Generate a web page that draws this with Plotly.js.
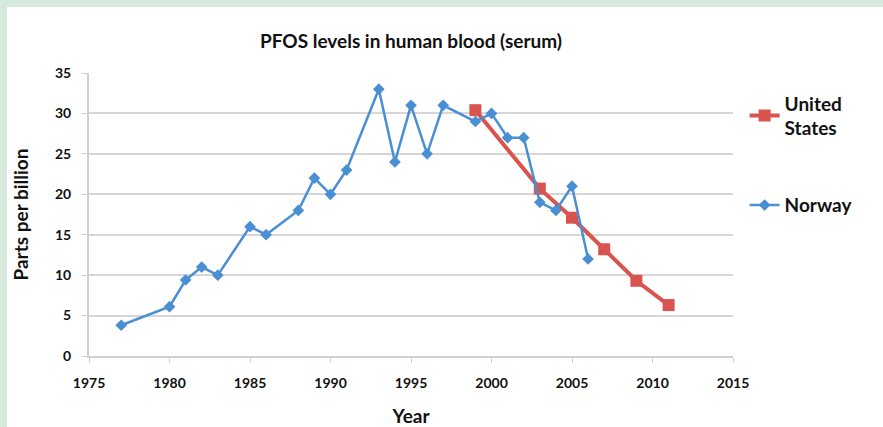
<!DOCTYPE html>
<html><head><meta charset="utf-8">
<script src="https://cdn.plot.ly/plotly-3.0.1.min.js"></script>
<style>
html,body{margin:0;padding:0;background:#d6e9dc;width:883px;height:427px;overflow:hidden}
#chart{position:absolute;left:7px;top:7px;width:876px;height:420px;background:#fff}
</style></head><body>
<div id="chart"></div>
<script>
const norwayYears = [1977,1980,1981,1982,1983,1985,1986,1988,1989,1990,1991,1993,1994,1995,1996,1997,1999,2000,2001,2002,2003,2004,2005,2006];
const norwayValues = [3.8,6.1,9.4,11,10,16,15,18,22,20,23,33,24,31,25,31,29,30,27,27,19,18,21,12];
const usYears = [1999,2003,2005,2007,2009,2011];
const usValues = [30.4,20.7,17.1,13.2,9.3,6.3];
const xTicks = [1975,1980,1985,1990,1995,2000,2005,2010,2015];
const yTicks = [0,5,10,15,20,25,30,35];

const font = "Lato, 'Open Sans', sans-serif";
const traces = [
  {x: usYears, y: usValues, name: 'United<br>States', mode: 'lines+markers', type: 'scatter', legend: 'legend',
   line: {color: '#d9534f', width: 4}, marker: {symbol: 'square', size: 12, color: '#d9534f'}},
  {x: norwayYears, y: norwayValues, name: 'Norway', mode: 'lines+markers', type: 'scatter', legend: 'legend2',
   line: {color: '#4a8fd4', width: 2.5}, marker: {symbol: 'diamond', size: 9, color: '#4a8fd4'}}
];
const legFont = {size: 19, family: font, weight: 'bold', color: '#111'};
const layout = {
  width: 876, height: 420,
  margin: {l: 82, r: 150, t: 66, b: 71},
  paper_bgcolor: '#fff', plot_bgcolor: '#fff',
  font: {family: font, color: '#111', weight: 'bold'},
  title: {text: 'PFOS levels in human blood (serum)', font: {size: 19, family: font, weight: 'bold', color: '#111'},
          x: 0.5, xref: 'paper', y: 0.935, yref: 'container'},
  xaxis: {range: [1975, 2015], tickvals: xTicks, ticktext: xTicks.map(String),
          showgrid: false, zeroline: false, showline: true, linecolor: '#d0d0d0', linewidth: 2,
          ticks: 'outside', ticklen: 5, tickcolor: '#d0d0d0', ticklabelstandoff: 8,
          tickfont: {size: 14, family: font, weight: 'bold'},
          title: {text: 'Year', font: {size: 19, family: font, weight: 'bold'}, standoff: 21}},
  yaxis: {range: [0, 35], tickvals: yTicks, ticktext: yTicks.map(String),
          showgrid: true, gridcolor: '#d6d6d6', gridwidth: 1.5, zeroline: false,
          showline: true, linecolor: '#d0d0d0', linewidth: 2,
          ticks: 'outside', ticklen: 5, tickcolor: '#d0d0d0', ticklabelstandoff: 8,
          tickfont: {size: 14, family: font, weight: 'bold'},
          title: {text: 'Parts per billion', font: {size: 19, family: font, weight: 'bold'}, standoff: 21}},
  showlegend: true,
  legend: {x: 1.018, xanchor: 'left', y: 0.96, yanchor: 'top', font: legFont, itemwidth: 30, bgcolor: 'rgba(0,0,0,0)'},
  legend2: {x: 1.018, xanchor: 'left', y: 0.6, yanchor: 'top', font: legFont, itemwidth: 30, bgcolor: 'rgba(0,0,0,0)'}
};
Plotly.newPlot('chart', traces, layout, {displayModeBar: false});
</script></body></html>
